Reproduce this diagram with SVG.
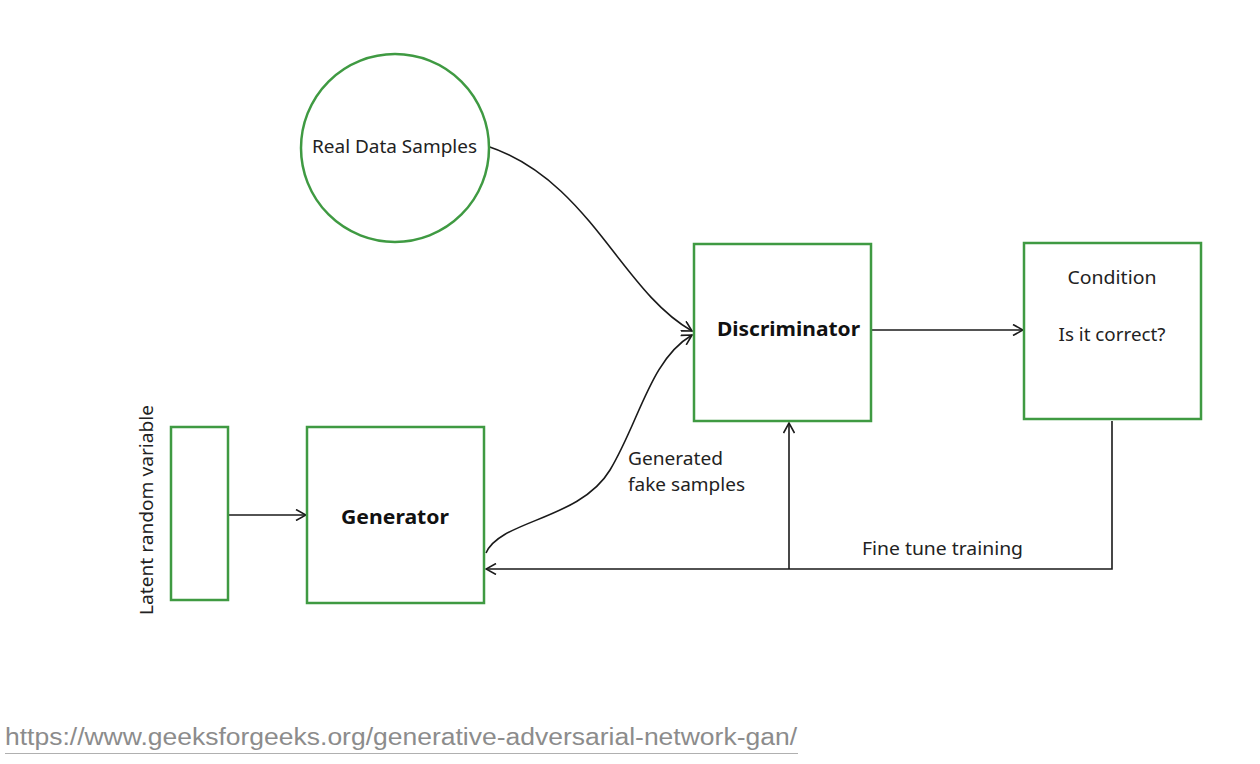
<svg xmlns="http://www.w3.org/2000/svg" width="1260" height="764" viewBox="0 0 1260 764">
<style>
.box{fill:#fff;stroke:#3f9a42;stroke-width:2.5}
.t{font-family:"Noto Sans","Open Sans",sans-serif;font-size:18px;fill:#222}
.b{font-family:"Noto Sans","Open Sans",sans-serif;font-size:20px;font-weight:bold;fill:#111}
.c{fill:none;stroke:#1a1a1a;stroke-width:1.6}
</style>
<defs>
<marker id="arr" viewBox="0 0 12 12" refX="11" refY="6" markerWidth="12" markerHeight="12" markerUnits="userSpaceOnUse" orient="auto">
<path d="M1,0.5 L11,6 L1,11.5" fill="none" stroke="#1a1a1a" stroke-width="1.6"/>
</marker>
</defs>
<rect width="1260" height="764" fill="#fff"/>
<g id="connectors">
<path class="c" d="M487,146 C590,180 620,290 692,331" marker-end="url(#arr)"/>
<path class="c" d="M486,553 C500,520 580,520 610,470 C640,420 650,360 692,335" marker-end="url(#arr)"/>
<path class="c" d="M228,515 L306,515" marker-end="url(#arr)"/>
<path class="c" d="M872,330 L1023,330" marker-end="url(#arr)"/>
<path class="c" d="M1112,421 L1112,569 L486,569" marker-end="url(#arr)"/>
<path class="c" d="M789,569 L789,423" marker-end="url(#arr)"/>
<text class="t" x="628" y="465" textLength="95" lengthAdjust="spacingAndGlyphs">Generated</text>
<text class="t" x="628" y="491" textLength="117" lengthAdjust="spacingAndGlyphs">fake samples</text>
<text class="t" x="862" y="555" textLength="161" lengthAdjust="spacingAndGlyphs">Fine tune training</text>
</g>
<g id="real-data">
<circle class="box" cx="395" cy="148" r="94"/>
<text class="t" x="394.5" y="153" text-anchor="middle" textLength="165" lengthAdjust="spacingAndGlyphs">Real Data Samples</text>
</g>
<g id="discriminator">
<rect class="box" x="694" y="244" width="177" height="177"/>
<text class="b" x="788.5" y="336" text-anchor="middle" textLength="143" lengthAdjust="spacingAndGlyphs">Discriminator</text>
</g>
<g id="condition">
<rect class="box" x="1024" y="243" width="177" height="176"/>
<text class="t" x="1112" y="284" text-anchor="middle" textLength="89" lengthAdjust="spacingAndGlyphs">Condition</text>
<text class="t" x="1112" y="341" text-anchor="middle" textLength="107" lengthAdjust="spacingAndGlyphs">Is it correct?</text>
</g>
<g id="generator">
<rect class="box" x="307" y="427" width="177" height="176"/>
<text class="b" x="395" y="524" text-anchor="middle" textLength="108" lengthAdjust="spacingAndGlyphs">Generator</text>
</g>
<g id="latent">
<rect class="box" x="171" y="427" width="57" height="173"/>
<text class="t" transform="translate(153,510) rotate(-90)" x="0" y="0" text-anchor="middle" textLength="210" lengthAdjust="spacingAndGlyphs">Latent random variable</text>
</g>
<g id="source">
<text x="5" y="745" font-family="Liberation Sans, Arial, sans-serif" font-size="23" fill="#8c8c8c" textLength="792" lengthAdjust="spacingAndGlyphs">https://www.geeksforgeeks.org/generative-adversarial-network-gan/</text>
<line x1="5" y1="753.5" x2="798" y2="753.5" stroke="#b0b0b0" stroke-width="1.2"/>
</g>
</svg>
